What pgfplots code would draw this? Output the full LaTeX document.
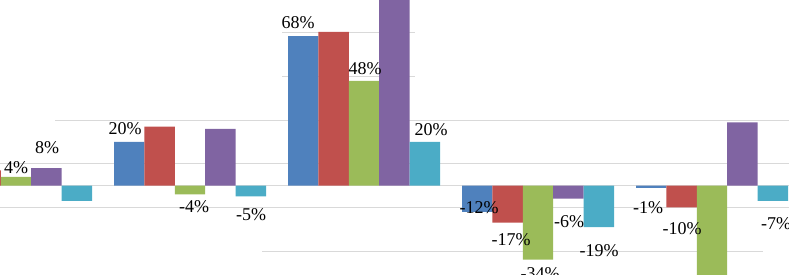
\documentclass[border=0pt]{standalone}
\usepackage{pgfplots}
\pgfplotsset{compat=1.18}
\usepackage{fontspec}
\setmainfont{Liberation Serif}
\definecolor{cBlue}{HTML}{4F81BD}
\definecolor{cRed}{HTML}{C0504D}
\definecolor{cGreen}{HTML}{9BBB59}
\definecolor{cPurple}{HTML}{8064A2}
\definecolor{cCyan}{HTML}{4BACC6}
\definecolor{cGrid}{HTML}{D9D9D9}
\begin{document}
\begin{tikzpicture}
\begin{axis}[
  scale only axis, width=789pt, height=275pt,
  xmin=0.908, xmax=5.4425, ymin=-41.0, ymax=85.1,
  hide axis, clip=true,
  gl/.style={cGrid, line width=1pt, forget plot, mark=none},
  bars/.style={ybar, bar width=30.4pt, draw=none, forget plot},
]
% gridlines
\addplot[gl] coordinates {(0.908,0) (5.4425,0)};
\addplot[gl] coordinates {(0.908,10) (5.4425,10)};
\addplot[gl] coordinates {(0.908,-10) (5.4425,-10)};
\addplot[gl] coordinates {(1.2241,30) (5.4425,30)};
\addplot[gl] coordinates {(2.4138,-30) (5.2931,-30)};
\addplot[gl] coordinates {(2.5287,50) (3.2931,50)};
\addplot[gl] coordinates {(2.5287,70) (3.2931,70)};
% bars
\addplot[bars, bar shift=-60.8pt, fill=cBlue]   coordinates {(1,5) (2,20) (3,68.5) (4,-12) (5,-1)};
\addplot[bars, bar shift=-30.4pt, fill=cRed]    coordinates {(1,7) (2,27) (3,70.5) (4,-17) (5,-10)};
\addplot[bars, bar shift=0pt,     fill=cGreen]  coordinates {(1,4) (2,-4) (3,48) (4,-34) (5,-45)};
\addplot[bars, bar shift=30.4pt,  fill=cPurple] coordinates {(1,8) (2,26) (3,90) (4,-6) (5,29)};
\addplot[bars, bar shift=60.8pt,  fill=cCyan]   coordinates {(1,-7) (2,-5) (3,20) (4,-19) (5,-7)};
% data labels
\addplot[draw=none, mark=none, forget plot, nodes near coords, point meta=explicit symbolic,
  every node near coord/.style={anchor=center, inner sep=0pt, text=black,
    font=\fontsize{18}{20}\selectfont}]
  coordinates {
   (1.0,8.07) [4\%]
   (1.1782,17.25) [8\%]
   (1.6264,25.96) [20\%]
   (2.0230,-9.82) [-4\%]
   (2.3506,-13.49) [-5\%]
   (2.6207,74.59) [68\%]
   (3.0057,53.49) [48\%]
   (3.3851,25.50) [20\%]
   (3.6609,-10.28) [-12\%]
   (3.8448,-24.95) [-17\%]
   (4.0115,-40.6) [-34\%]
   (4.1782,-16.70) [-6\%]
   (4.3506,-30.0) [-19\%]
   (4.6322,-10.28) [-1\%]
   (4.8276,-19.91) [-10\%]
   (5.3678,-17.5) [-7\%]
  };
\end{axis}
\pgfresetboundingbox
\useasboundingbox (current axis.south west) rectangle (current axis.north east);
\end{tikzpicture}
\end{document}
